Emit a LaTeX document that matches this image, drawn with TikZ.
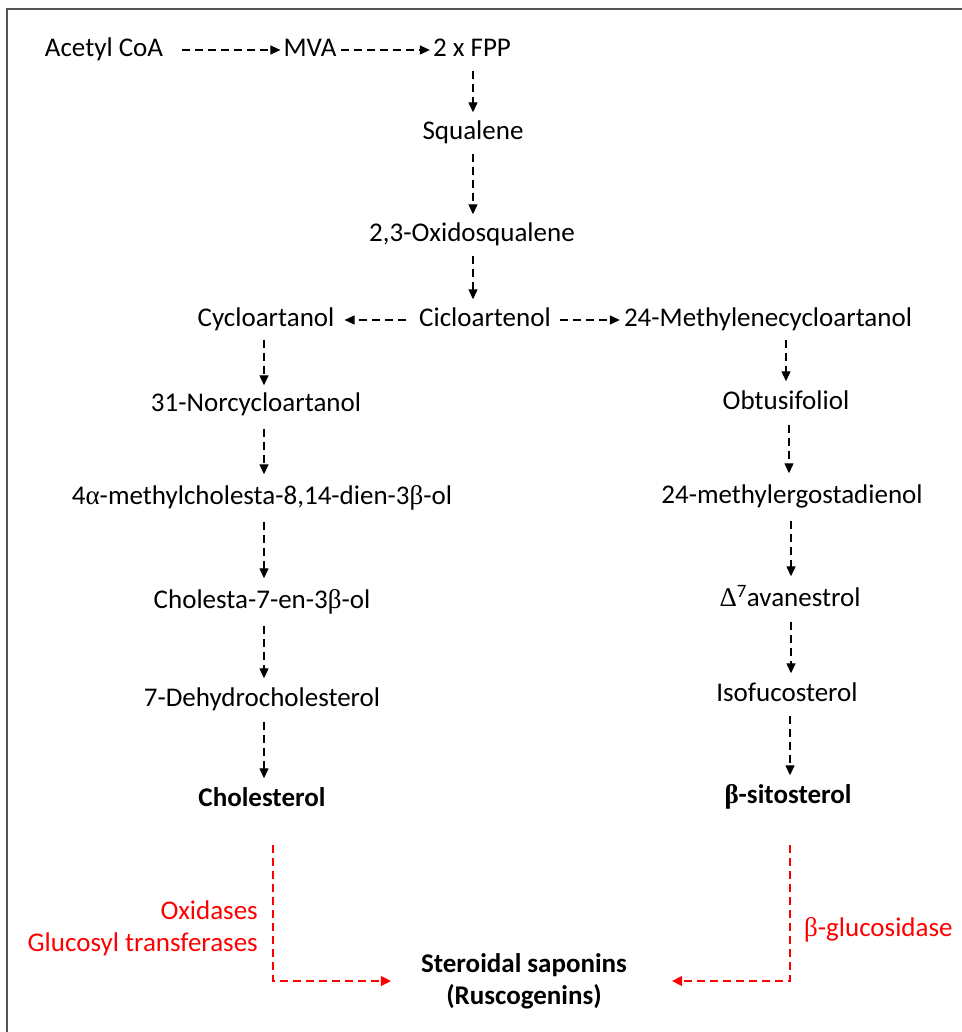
\documentclass[tikz,border=0pt]{standalone}
\usepackage{fontspec}
\setmainfont{Carlito}
\newfontfamily\grk{Liberation Serif}
\usepackage{xcolor}
\usetikzlibrary{arrows.meta}
\definecolor{framegray}{HTML}{555555}
\definecolor{enzred}{HTML}{FF0000}
\newcommand{\galpha}{{\grk α}}
\newcommand{\gbeta}{{\grk β}}
\newcommand{\gDelta}{{\grk Δ}}

\begin{document}
\begin{tikzpicture}[x=1pt,y=-1pt,
  every node/.style={font=\fontsize{27}{32}\selectfont,text height=19pt,text depth=6pt,inner sep=3pt},
  flow/.style={draw,dash pattern=on 8pt off 5pt,line width=1.3pt,-{Triangle[length=10pt,width=9pt]}},
  enzflow/.style={flow,draw=enzred,fill=none,line width=1.5pt,-{Triangle[length=10pt,width=10pt,fill=enzred]}},
  enz/.style={text=enzred}]
  \useasboundingbox (0,0) rectangle (961,1032);
  \draw[framegray,line width=1.6pt] (7,1040) -- (7,9) -- (970,9);
  % main chain
  \node (acoa) at (104,50) {Acetyl CoA}; \node (mva) at (310,50) {MVA}; \node (fpp) at (472,50) {2 x FPP};
  \node (squal) at (473,133) {Squalene}; \node (oxsq) at (472,235) {2,3-Oxidosqualene};
  \node (cicl) at (485,320) {Cicloartenol}; \node (cyca) at (266,320) {Cycloartanol};
  \node (meth) at (768,320) {24-Methylenecycloartanol};
  % left branch
  \node (nor) at (256,405) {31-Norcycloartanol}; \node (mch) at (262,498) {4\galpha-methylcholesta-8,14-dien-3\gbeta-ol};
  \node (chols) at (262,602) {Cholesta-7-en-3\gbeta-ol}; \node (dhc) at (262,700) {7-Dehydrocholesterol};
  \node[font=\fontsize{27}{32}\selectfont\bfseries] (chol) at (262,800) {Cholesterol};
  % right branch
  \node (obt) at (786,403) {Obtusifoliol}; \node (meg) at (792,497) {24-methylergostadienol};
  \node (ava) at (790,600) {\gDelta\textsuperscript{7}avanestrol}; \node (iso) at (787,695) {Isofucosterol};
  \node[font=\fontsize{27}{32}\selectfont\bfseries] (sito) at (788,797) {\gbeta-sitosterol};
  % saponins
  \node[font=\fontsize{27}{32}\selectfont\bfseries,align=center,text height=,text depth=] (sap) at (524,981) {Steroidal saponins\\(Ruscogenins)};
  \node[enz,anchor=east] (oxi) at (261,913) {Oxidases}; \node[enz,anchor=east] (glu) at (261,945) {Glucosyl transferases};
  \node[enz,anchor=west] (gluc) at (801,930) {\gbeta-glucosidase};
  \coordinate (cl) at (273,845); \coordinate (cr) at (790,845);
  \draw[flow,shorten <=16pt] (acoa) -- (mva); \draw[flow,shorten <=1pt] (mva) -- (fpp);
  \draw[flow,shorten <=5pt,shorten >=5pt] (fpp.south -| squal) -- (squal);
  \draw[flow,shorten <=5pt,shorten >=5pt] (squal) -- (oxsq.north -| squal);
  \draw[flow,shorten <=5pt,shorten >=5pt] (oxsq.south -| squal) -- (cicl.north -| squal);
  \draw[flow,shorten <=10pt,shorten >=7pt] (cicl) -- (cyca); \draw[flow,shorten <=6pt,shorten >=1pt] (cicl) -- (meth);
  \draw[flow,shorten <=4pt,shorten >=4pt] (cyca.south -| 264,0) -- (nor.north -| 264,0);
  \draw[flow,shorten <=8pt,shorten >=8pt] (nor.south -| 264,0) -- (mch.north -| 264,0);
  \draw[flow,shorten <=8pt,shorten >=8pt] (mch.south -| 264,0) -- (chols.north -| 264,0);
  \draw[flow,shorten <=8pt,shorten >=6pt] (chols.south -| 264,0) -- (dhc.north -| 264,0);
  \draw[flow,shorten <=6pt,shorten >=6pt] (dhc.south -| 264,0) -- (chol.north -| 264,0);
  \draw[flow,shorten <=4pt,shorten >=6pt] (meth.south -| obt) -- (obt);
  \draw[flow,shorten <=6pt,shorten >=8pt] (obt.south -| 789,0) -- (meg.north -| 789,0);
  \draw[flow,shorten <=8pt,shorten >=8pt] (meg.south -| 791,0) -- (ava.north -| 791,0);
  \draw[flow,shorten <=6pt,shorten >=6pt] (ava.south -| 791,0) -- (iso.north -| 791,0);
  \draw[flow,shorten <=5pt,shorten >=6pt] (iso.south -| 790,0) -- (sito.north -| 790,0);
  \draw[enzflow,shorten >=27pt] (cl) |- (sap.west); \draw[enzflow,shorten >=42pt] (cr) |- (sap.east);
\end{tikzpicture}
\end{document}
